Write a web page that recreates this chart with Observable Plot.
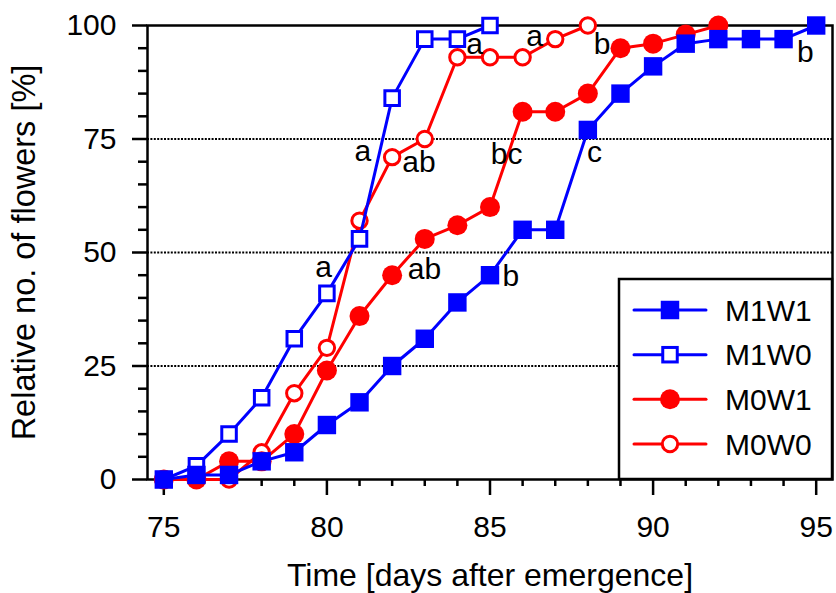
<!DOCTYPE html>
<html>
<head>
<meta charset="utf-8">
<script src="https://cdn.jsdelivr.net/npm/d3@7"></script>
<script src="https://cdn.jsdelivr.net/npm/@observablehq/plot@0.6"></script>
<style>
  html, body { margin: 0; padding: 0; background: #fff; }
  #chart { position: relative; width: 836px; height: 593px; }
</style>
</head>
<body>
<div id="chart"></div>
<script>
// ---- Data ----
const seriesNames = ["M1W1", "M1W0", "M0W1", "M0W0"];

const daysM1W1 = [75, 76, 77, 78, 79, 80, 81, 82, 83, 84, 85, 86, 87, 88, 89, 90, 91, 92, 93, 94, 95];
const valsM1W1 = [0, 1, 1, 4, 6, 12, 17, 25, 31, 39, 45, 55, 55, 77, 85, 91, 96, 97, 97, 97, 100];

const daysM1W0 = [75, 76, 77, 78, 79, 80, 81, 82, 83, 84, 85];
const valsM1W0 = [0, 3, 10, 18, 31, 41, 53, 84, 97, 97, 100];

const daysM0W1 = [75, 76, 77, 78, 79, 80, 81, 82, 83, 84, 85, 86, 87, 88, 89, 90, 91, 92];
const valsM0W1 = [0, 0, 4, 4, 10, 24, 36, 45, 53, 56, 60, 81, 81, 85, 95, 96, 98, 100];

const daysM0W0 = [75, 76, 77, 78, 79, 80, 81, 82, 83, 84, 85, 86, 87, 88];
const valsM0W0 = [0, 0, 0, 6, 19, 29, 57, 71, 75, 93, 93, 93, 97, 100];

// significance letters (position in data units)
const labelTexts = ["a", "ab", "a", "ab", "a", "a", "b", "bc", "c", "b", "b"];
const labelDays  = [79.9, 82.99, 81.1, 82.82, 84.53, 86.37, 88.44, 85.51, 88.2, 85.64, 94.67];
const labelVals  = [46.7, 46.3, 72.2, 69.8, 95.9, 97.7, 95.9, 71.7, 72.0, 44.8, 94.0];

const xMajorTicks = [75, 80, 85, 90, 95];
const xMinorTicks = [76, 77, 78, 79, 81, 82, 83, 84, 86, 87, 88, 89, 91, 92, 93, 94];
const yMajorTicks = [0, 25, 50, 75, 100];
const yMinorTicks = [5, 10, 15, 20, 30, 35, 40, 45, 55, 60, 65, 70, 80, 85, 90, 95];
const gridValues = [25, 50, 75];

const xTitle = "Time [days after emergence]";
const yTitle = "Relative no. of flowers [%]";

// ---- Build tables ----
function table(days, vals) { return days.map((d, i) => ({day: d, val: vals[i]})); }
const dM1W1 = table(daysM1W1, valsM1W1);
const dM1W0 = table(daysM1W0, valsM1W0);
const dM0W1 = table(daysM0W1, valsM0W1);
const dM0W0 = table(daysM0W0, valsM0W0);
const labels = labelTexts.map((t, i) => ({t, x: labelDays[i], y: labelVals[i]}));

const BLUE = "#0000ff", RED = "#ff0000";
const LW = 3;
const FONT = "'Liberation Sans', Arial, sans-serif";

const plot = Plot.plot({
  width: 836,
  height: 593,
  marginLeft: 147,
  marginRight: 4,
  marginTop: 25,
  marginBottom: 114,
  style: {fontFamily: FONT, fontSize: "30px", color: "black", background: "white", overflow: "visible"},
  x: {domain: [74.5, 95.5]},
  y: {domain: [0, 100]},
  marks: [
    Plot.ruleY(gridValues, {stroke: "black", strokeWidth: 2, strokeDasharray: "2,1.4"}),
    // minor ticks
    Plot.axisX(xMinorTicks, {tickSize: 7, strokeWidth: 2.5, text: null, label: null}),
    Plot.axisY(yMinorTicks, {tickSize: 9, strokeWidth: 2.5, text: null, label: null}),
    // major ticks with labels
    Plot.axisX(xMajorTicks, {tickSize: 16, tickPadding: 20, strokeWidth: 2.5, fontSize: 30, label: null}),
    Plot.axisY(yMajorTicks, {tickSize: 15, tickPadding: 16, strokeWidth: 2.5, fontSize: 30, label: null}),
    // axis titles
    Plot.axisX([], {tickSize: 0, fontSize: 32, label: xTitle, labelAnchor: "center", labelArrow: "none", labelOffset: 106}),
    Plot.axisY([], {tickSize: 0, fontSize: 32.5, label: yTitle, labelAnchor: "center", labelArrow: "none", labelOffset: 136}),
    Plot.frame({stroke: "black", strokeWidth: 2.5}),
    // series (drawn bottom to top)
    Plot.line(dM0W0, {x: "day", y: "val", stroke: RED, strokeWidth: LW}),
    Plot.dot(dM0W0, {x: "day", y: "val", symbol: "circle", r: 7.7, fill: "white", stroke: RED, strokeWidth: 3}),
    Plot.line(dM0W1, {x: "day", y: "val", stroke: RED, strokeWidth: LW}),
    Plot.dot(dM0W1, {x: "day", y: "val", symbol: "circle", r: 10, fill: RED, stroke: "none"}),
    Plot.line(dM1W0, {x: "day", y: "val", stroke: BLUE, strokeWidth: LW}),
    Plot.dot(dM1W0, {x: "day", y: "val", symbol: "square", r: 8.2, fill: "white", stroke: BLUE, strokeWidth: 3}),
    Plot.line(dM1W1, {x: "day", y: "val", stroke: BLUE, strokeWidth: LW}),
    Plot.dot(dM1W1, {x: "day", y: "val", symbol: "square", r: 10.4, fill: BLUE, stroke: "none"}),
    // significance letters
    Plot.text(labels, {x: "x", y: "y", text: "t", fontSize: 30, fill: "black", textAnchor: "middle", lineAnchor: "middle"})
  ]
});

document.getElementById("chart").appendChild(plot);

// ---- Legend (inside the plot area, lower right) ----
const svg = d3.select(plot);
const legendItems = [
  {name: seriesNames[0], color: BLUE, shape: "square", filled: true},
  {name: seriesNames[1], color: BLUE, shape: "square", filled: false},
  {name: seriesNames[2], color: RED, shape: "circle", filled: true},
  {name: seriesNames[3], color: RED, shape: "circle", filled: false}
];
const lg = svg.append("g").attr("class", "legend").attr("text-anchor", "start");
lg.append("rect").attr("x", 619).attr("y", 279).attr("width", 213).attr("height", 200)
  .attr("fill", "white").attr("stroke", "black").attr("stroke-width", 2.5);
const rowY = [310, 354.7, 399.3, 444];
legendItems.forEach((it, i) => {
  const y = rowY[i];
  lg.append("line").attr("x1", 634).attr("x2", 706).attr("y1", y).attr("y2", y)
    .attr("stroke", it.color).attr("stroke-width", LW).attr("stroke-linecap", "round");
  if (it.shape === "square") {
    const s = it.filled ? 18.5 : 14.5;
    lg.append("rect").attr("x", 670 - s / 2).attr("y", y - s / 2).attr("width", s).attr("height", s)
      .attr("fill", it.filled ? it.color : "white")
      .attr("stroke", it.filled ? "none" : it.color).attr("stroke-width", 3);
  } else {
    lg.append("circle").attr("cx", 670).attr("cy", y).attr("r", it.filled ? 10 : 7.7)
      .attr("fill", it.filled ? it.color : "white")
      .attr("stroke", it.filled ? "none" : it.color).attr("stroke-width", 3);
  }
  lg.append("text").attr("x", 725).attr("y", y).attr("dy", "0.35em")
    .attr("text-anchor", "start").attr("font-family", FONT)
    .attr("font-size", 30).attr("fill", "black").text(it.name);
});
</script>
</body>
</html>
